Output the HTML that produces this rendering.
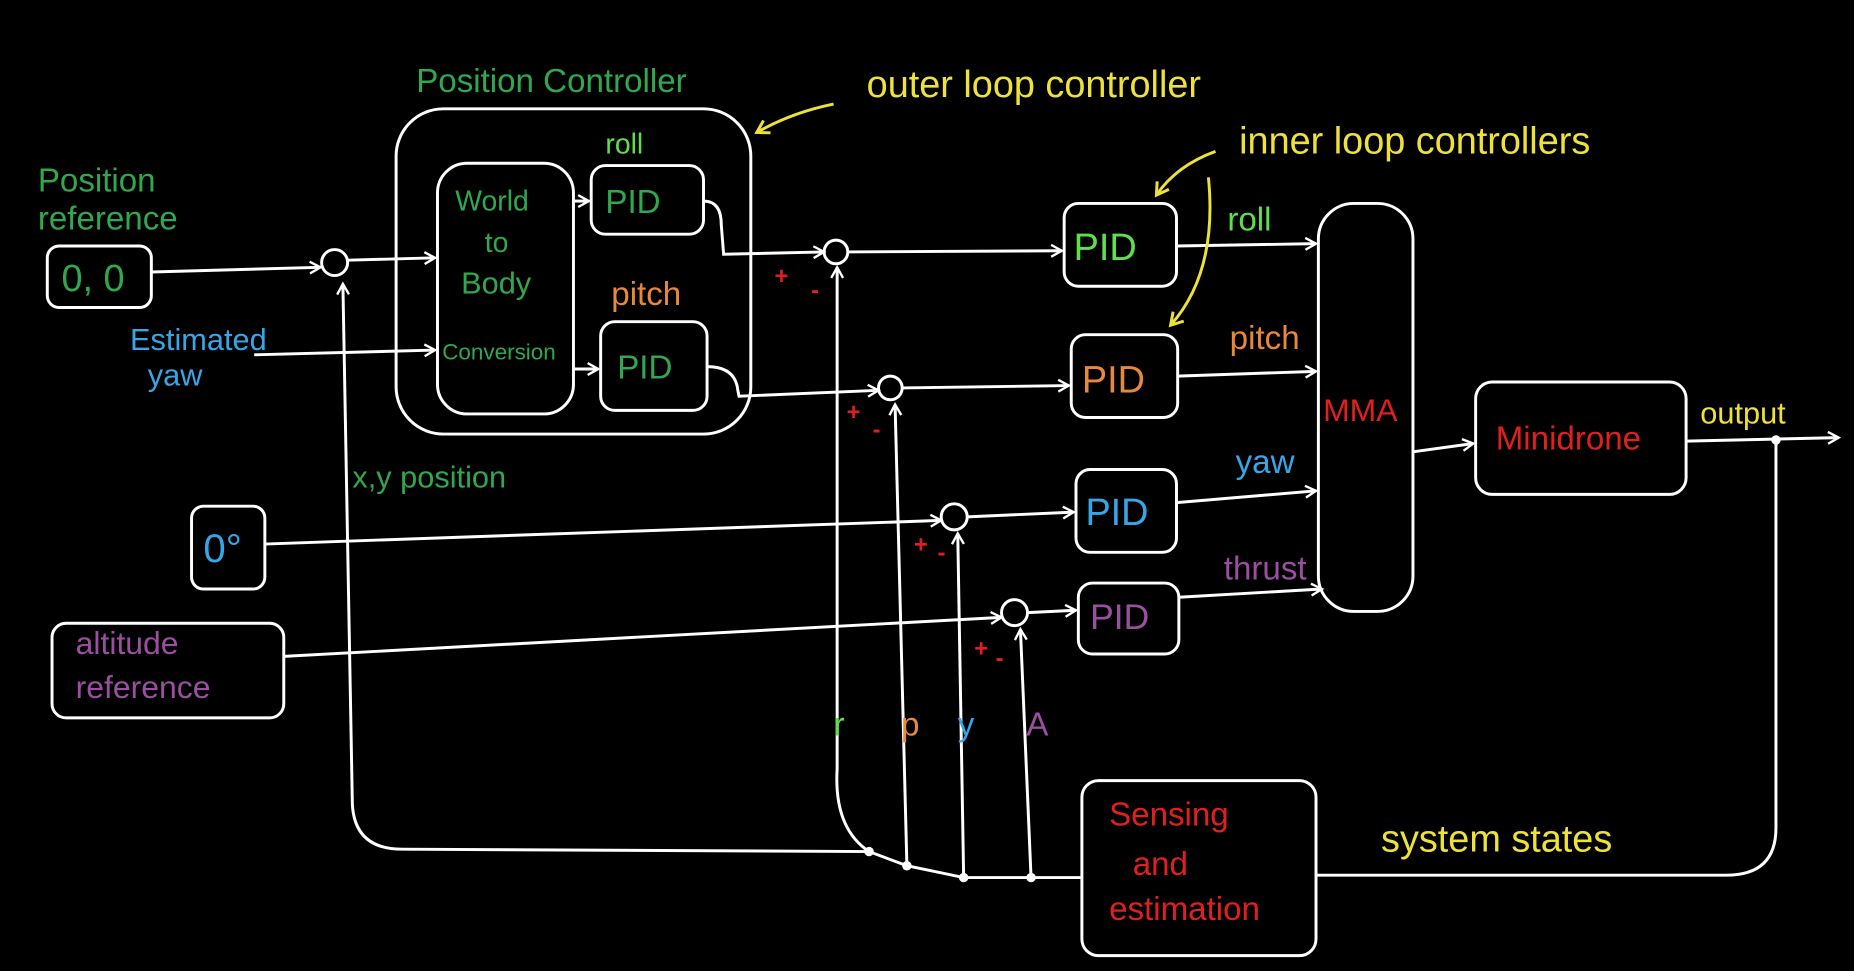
<!DOCTYPE html>
<html><head><meta charset="utf-8"><style>
html,body{margin:0;padding:0;background:#000;}
svg{display:block;}
text{font-family:"Liberation Sans",sans-serif;}
</style></head><body>
<svg width="1854" height="971" viewBox="0 0 1568 821" preserveAspectRatio="none" xmlns="http://www.w3.org/2000/svg">
<defs>
<marker id="a" markerWidth="12" markerHeight="12" refX="10" refY="6" orient="auto" markerUnits="userSpaceOnUse">
<path d="M1,1 L10,6 L1,11" fill="none" stroke="#fff" stroke-width="2"/></marker>
<marker id="y" markerWidth="14" markerHeight="14" refX="11" refY="7" orient="auto" markerUnits="userSpaceOnUse">
<path d="M1,1 L11,7 L1,13" fill="none" stroke="#ede23a" stroke-width="2.5"/></marker>
</defs>
<rect width="1568" height="821" fill="#000"/>
<g fill="none" stroke="#fff" stroke-width="2.5">
<rect x="40" y="208" width="88" height="52" rx="10"/>
<rect x="335" y="92" width="300" height="275" rx="40"/>
<rect x="370" y="138" width="115" height="212" rx="25"/>
<rect x="500" y="140" width="95" height="58" rx="12"/>
<rect x="508" y="272" width="90" height="75" rx="12"/>
<rect x="900" y="172" width="95" height="70" rx="12"/>
<rect x="906" y="283" width="90" height="70" rx="12"/>
<rect x="910" y="397" width="85" height="70" rx="12"/>
<rect x="912" y="493" width="85" height="60" rx="12"/>
<rect x="1115" y="172" width="80" height="345" rx="30"/>
<rect x="1248" y="323" width="178" height="95" rx="14"/>
<rect x="915" y="660" width="198" height="148" rx="14"/>
<rect x="162" y="428" width="62" height="70" rx="10"/>
<rect x="44" y="527" width="196" height="80" rx="12"/>
<circle cx="283" cy="222" r="11"/>
<circle cx="707" cy="213" r="10"/>
<circle cx="753" cy="328" r="10"/>
<circle cx="807" cy="437" r="11"/>
<circle cx="858" cy="518" r="11"/>
<path d="M128,230 L271,226" marker-end="url(#a)"/>
<path d="M294,220 L368,218" marker-end="url(#a)"/>
<path d="M215,300 L368,296" marker-end="url(#a)"/>
<path d="M485,170 L498,170" marker-end="url(#a)"/>
<path d="M485,312 L506,312" marker-end="url(#a)"/>
<path d="M595,170 Q610,170 610,190 L612,215 L697,213" marker-end="url(#a)"/>
<path d="M598,310 Q622,310 624,330 L625,335 L743,330" marker-end="url(#a)"/>
<path d="M717,213 L898,212" marker-end="url(#a)"/>
<path d="M763,328 L904,326" marker-end="url(#a)"/>
<path d="M224,460 L796,440" marker-end="url(#a)"/>
<path d="M818,437 L908,433" marker-end="url(#a)"/>
<path d="M240,555 L847,522" marker-end="url(#a)"/>
<path d="M869,518 L910,516" marker-end="url(#a)"/>
<path d="M995,208 L1113,206" marker-end="url(#a)"/>
<path d="M996,318 L1113,314" marker-end="url(#a)"/>
<path d="M995,425 L1113,415" marker-end="url(#a)"/>
<path d="M997,505 L1118,498" marker-end="url(#a)"/>
<path d="M1195,382 L1246,375" marker-end="url(#a)"/>
<path d="M1426,373 L1555,370" marker-end="url(#a)"/>
<path d="M1502,372 L1502,700 Q1502,740 1460,740 L1113,740"/>
<path d="M915,742 L872,742 L815,742 L767,732 L735,720 L340,718 Q300,718 298,680 L290,240" marker-end="url(#a)"/>
<path d="M735,720 Q705,700 708,650 L708,226" marker-end="url(#a)"/>
<path d="M767,732 L757,342" marker-end="url(#a)"/>
<path d="M815,742 L810,451" marker-end="url(#a)"/>
<path d="M872,742 L863,532" marker-end="url(#a)"/>
</g>
<g fill="#fff"><circle cx="735" cy="720" r="4"/><circle cx="767" cy="732" r="4"/><circle cx="815" cy="742" r="4"/><circle cx="872" cy="742" r="4"/><circle cx="1502" cy="372" r="4"/></g>
<g fill="none" stroke="#ede23a" stroke-width="2.5">
<path d="M705,88 Q670,95 640,112" marker-end="url(#y)"/>
<path d="M1028,128 Q995,140 978,165" marker-end="url(#y)"/>
<path d="M1022,150 Q1030,230 990,275" marker-end="url(#y)"/>
</g>
<g font-size="28">
<text x="352" y="78" fill="#2fa84f">Position Controller</text>
<text x="32" y="162" fill="#2fa84f">Position</text>
<text x="32" y="194" fill="#2fa84f">reference</text>
<text x="52" y="246" fill="#2fa84f" font-size="32">0, 0</text>
<text x="385" y="178" fill="#2fa84f" font-size="24">World</text>
<text x="410" y="213" fill="#2fa84f" font-size="24">to</text>
<text x="390" y="248" fill="#2fa84f" font-size="26">Body</text>
<text x="374" y="304" fill="#2fa84f" font-size="19">Conversion</text>
<text x="512" y="130" fill="#5ee04a" font-size="24">roll</text>
<text x="512" y="180" fill="#2fa84f">PID</text>
<text x="517" y="258" fill="#e8883a">pitch</text>
<text x="522" y="320" fill="#2fa84f">PID</text>
<text x="110" y="296" fill="#35a6e8" font-size="26">Estimated</text>
<text x="125" y="326" fill="#35a6e8" font-size="26">yaw</text>
<text x="298" y="412" fill="#2fa84f" font-size="26">x,y position</text>
<text x="172" y="475" fill="#35a6e8" font-size="34">0°</text>
<text x="64" y="553" fill="#9a4fa0" font-size="27">altitude</text>
<text x="64" y="590" fill="#9a4fa0" font-size="27">reference</text>
<text x="733" y="82" fill="#ede23a" font-size="32">outer loop controller</text>
<text x="1048" y="130" fill="#ede23a" font-size="32">inner loop controllers</text>
<text x="908" y="220" fill="#5ee04a" font-size="32">PID</text>
<text x="915" y="332" fill="#e8883a" font-size="32">PID</text>
<text x="918" y="444" fill="#35a6e8" font-size="32">PID</text>
<text x="922" y="532" fill="#9a4fa0" font-size="30">PID</text>
<text x="1038" y="195" fill="#5ee04a">roll</text>
<text x="1040" y="295" fill="#e8883a">pitch</text>
<text x="1045" y="400" fill="#35a6e8">yaw</text>
<text x="1035" y="490" fill="#9a4fa0">thrust</text>
<text x="1119" y="356" fill="#e21f1f" font-size="27">MMA</text>
<text x="1265" y="380" fill="#e21f1f" font-size="28">Minidrone</text>
<text x="1438" y="358" fill="#ede23a" font-size="26">output</text>
<text x="938" y="698" fill="#e21f1f">Sensing</text>
<text x="958" y="740" fill="#e21f1f">and</text>
<text x="938" y="778" fill="#e21f1f">estimation</text>
<text x="1168" y="720" fill="#ede23a" font-size="32">system states</text>
<text x="705" y="622" fill="#5ee04a">r</text>
<text x="762" y="622" fill="#e8883a">p</text>
<text x="810" y="622" fill="#35a6e8">y</text>
<text x="868" y="622" fill="#9a4fa0">A</text>
</g>
<g fill="#e21f1f" font-size="20" font-weight="bold">
<text x="655" y="240">+</text><text x="686" y="252">-</text>
<text x="716" y="355">+</text><text x="738" y="370">-</text>
<text x="773" y="467">+</text><text x="793" y="474">-</text>
<text x="824" y="555">+</text><text x="842" y="563">-</text>
</g>
</svg>
</body></html>
